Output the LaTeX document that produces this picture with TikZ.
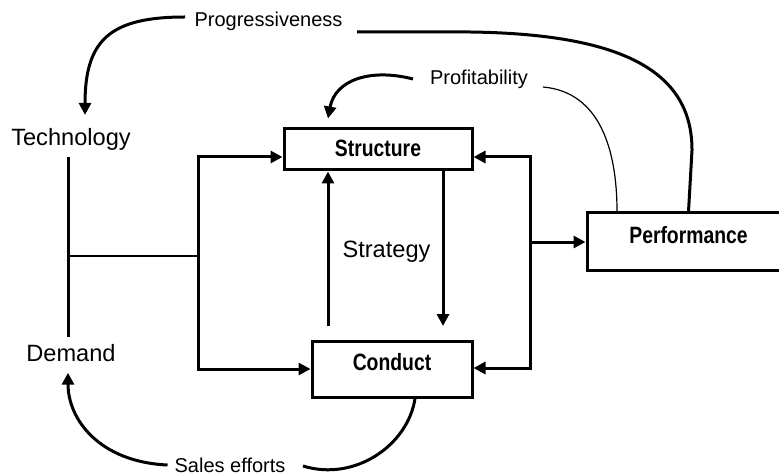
\documentclass[tikz,border=0pt]{standalone}
\usepackage{fontspec}
\setmainfont{Liberation Sans}
\newfontfamily\boxfont{Liberation Sans}[FakeStretch=0.82]
\usetikzlibrary{arrows.meta}

\tikzset{
	box/.style={draw, rectangle, line width=1.5pt, text depth=7pt, font=\boxfont\bfseries\fontsize{11.8}{14}\selectfont},
	big/.style={font=\fontsize{11.8}{14}\selectfont},
	small/.style={font=\fontsize{10}{12}\selectfont},
	link/.style={line width=1.5pt},
	arr/.style={line width=1.5pt, -{Triangle[length=6pt,width=6pt]}},
}

\begin{document}
\begin{tikzpicture}[x=0.5pt, y=-0.5pt]
				\useasboundingbox (0,0) rectangle (779,475);
				\clip (0,0) rectangle (779,475);
				\node[big] (Tech)at(71, 139) {Technology};
				\node[big] (Dem)at(71, 353) {Demand};
				\node[big] (Strat)at(386.5, 252) {Strategy};
				\node[small] (Prog)at(268.5, 21) {Progressiveness};
				\node[small] (Prof)at(479, 79) {Profitability};
				\node[small] (Sales)at(230, 465) {Sales efforts};
				\node[box, text depth=1.5pt, minimum width=94pt, minimum height=20.5pt] (S)at(378, 149.5) {Structure};
				\node[box, minimum width=80pt, minimum height=28pt] (C)at(392, 369) {Conduct};
				\node[box, minimum width=101.5pt, minimum height=28.5pt] (P)at(688.5, 241.5) {Performance};
				\coordinate (j1) at (68, 256);
				\coordinate (j2) at (198, 256);
				\coordinate (b1) at (198, 157);
				\coordinate (b2) at (198, 369);
				\coordinate (r1) at (530, 157);
				\coordinate (r2) at (530, 368);
				\coordinate (r3) at (530, 242);
				\coordinate (u1) at (328, 326);
				\coordinate (u2) at (443, 326);
				\coordinate (p1) at (185, 17);
				\coordinate (p2) at (357, 32);
				\coordinate (f1) at (413, 79);
				\coordinate (f2) at (543, 87);
				\coordinate (s2) at (303, 466);
				\draw[link] ([xshift=-1.5pt]Tech.south) -- ([xshift=-1.5pt]Dem.north);
				\draw[line width=0.6pt] (j1) -- (j2);
				\draw[arr] (j2) -- (b1) -- (b1 -| S.west);
				\draw[arr] (j2) -- (b2) -- (b2 -| C.west);
				\draw[arr] (r3) -- (r1) -- (r1 -| S.east);
				\draw[arr] (r3) -- (r2) -- (r2 -| C.east);
				\draw[arr] (r3) -- (r3 -| P.west);
				\draw[arr] (u1) -- (u1 |- S.south);
				\draw[arr] (u2 |- S.south) -- (u2);
				\draw[arr] (p1) .. controls (110, 17) and (85, 40) .. ([xshift=7pt, yshift=3pt]Tech.north);
				\draw[link] (p2) -- (470, 32) .. controls (620, 34) and (692, 70) .. (692, 150) -- (P.north);
				\draw[arr] (f1) .. controls (370, 68) and (335, 80) .. ([xshift=-25pt, yshift=4.5pt]S.north);
				\draw[line width=0.6pt] (f2) .. controls (600, 92) and (617, 150) .. ([xshift=-35.75pt]P.north);
				\draw[arr] (Sales.west) .. controls (100, 462) and (68, 420) .. ([xshift=-1.5pt, yshift=-2pt]Dem.south);
				\draw[link] (s2) .. controls (355, 482) and (408, 445) .. ([xshift=11.5pt]C.south);
			\end{tikzpicture}
\end{document}
